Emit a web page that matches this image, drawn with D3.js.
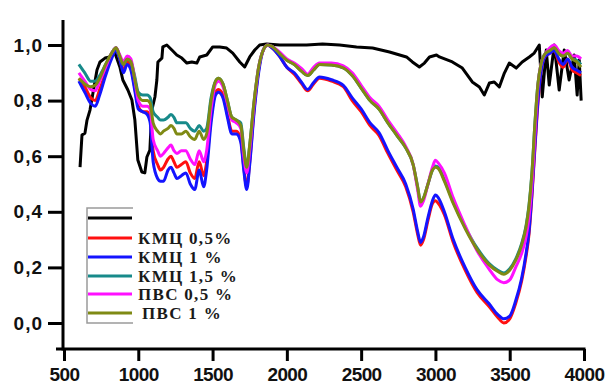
<!DOCTYPE html>
<html>
<head>
<meta charset="utf-8">
<script src="https://cdn.jsdelivr.net/npm/d3@7"></script>
<style>
  html, body { margin: 0; padding: 0; background: #fff; }
  svg { display: block; }
</style>
</head>
<body>
<svg id="chart" width="608" height="386"></svg>
<script>
// ---------- DATA ----------
const seriesNames = ["", "КМЦ 0,5%", "КМЦ 1 %", "КМЦ 1,5 %", "ПВС 0,5 %", "ПВС 1 %"];
const seriesColors = ["#000000", "#ff1010", "#1414ff", "#178a8a", "#ff10ff", "#7f8a14"];

const xTicks = [500, 1000, 1500, 2000, 2500, 3000, 3500, 4000];
const xMinorTicks = [750, 1250, 1750, 2250, 2750, 3250, 3750];
const yTicks = [0, 0.2, 0.4, 0.6, 0.8, 1.0];
const yMinorTicks = [0.1, 0.3, 0.5, 0.7, 0.9];

// reference (black) curve
const blackWn = [608,621,641,655,675,695,722,742,776,809,843,876,896,930,957,977,997,1024,1044,1058,
  1078,1091,1112,1125,1132,1159,1165,1192,1226,1259,1293,1327,1360,1394,1414,1461,1501,1548,1595,1636,
  1683,1716,1750,1784,1817,1864,1952,2133,2240,2355,2469,2577,2691,2805,2845,2892,2926,2960,3007,3027,
  3114,3181,3248,3296,3329,3363,3396,3430,3464,3497,3544,3584,3632,3665,3699,3719,3746,3766,3800,3833,
  3867,3900,3934,3954,3968,3981];
const blackVals = [.561,.676,.683,.730,.766,.827,.910,.939,.953,.957,.971,.921,.874,.838,.802,.730,.586,.543,.540,.597,
  .622,.766,.813,.874,.939,.953,.993,1.0,.982,.964,.953,.935,.939,.935,.957,.964,.993,.993,.989,.971,
  .939,.921,.957,.982,1.0,1.004,1.0,1.0,1.004,1.0,.993,.989,.975,.957,.939,.921,.935,.957,.964,.957,
  .939,.917,.867,.849,.820,.863,.867,.849,.899,.935,.917,.939,.957,.971,1.0,.813,.982,.856,1.0,.838,
  .982,.874,.964,.82,.946,.80];

// common wavenumber grid for the coloured curves
const wavenumbers = [600,640,680,710,740,780,820,850,875,900,
  925,950,975,1000,1030,1060,1080,1100,1130,1150,
  1170,1200,1220,1240,1260,1290,1320,1350,1380,1410,
  1440,1460,1490,1520,1540,1570,1600,1630,1660,1690,
  1710,1730,1750,1780,1810,1840,1870,1900,1950,2000,
  2050,2100,2140,2180,2220,2300,2380,2440,2500,2560,
  2620,2680,2740,2800,2850,2880,2900,2920,2950,2980,
  3000,3020,3060,3120,3200,3280,3360,3420,3460,3500,
  3540,3580,3610,3630,3650,3670,3690,3710,3740,3770,
  3800,3830,3860,3890,3920,3950,3980];

const kmc05 = [.88,.85,.81,.80,.84,.90,.96,.985,.95,.91,
  .94,.92,.85,.78,.76,.76,.74,.62,.57,.55,
  .56,.59,.60,.58,.56,.57,.58,.54,.52,.58,
  .53,.58,.74,.83,.84,.82,.75,.69,.69,.66,
  .56,.49,.58,.77,.91,.98,1.0,.99,.96,.92,
  .895,.86,.835,.86,.88,.87,.85,.80,.76,.71,
  .675,.61,.55,.49,.40,.32,.28,.30,.37,.43,
  .44,.43,.39,.29,.19,.11,.06,.02,.0,.015,
  .07,.15,.24,.32,.46,.63,.79,.90,.96,.97,
  .98,.94,.92,.95,.91,.90,.89];

const kmc1 = [.87,.83,.79,.78,.82,.89,.95,.98,.95,.90,
  .93,.91,.84,.77,.76,.75,.72,.58,.52,.51,
  .51,.55,.56,.54,.52,.53,.54,.50,.48,.55,
  .49,.55,.72,.82,.83,.81,.74,.68,.68,.65,
  .55,.48,.57,.76,.90,.98,1.0,.99,.96,.92,
  .90,.865,.84,.865,.885,.875,.855,.81,.77,.72,
  .685,.62,.56,.50,.41,.33,.29,.31,.38,.44,
  .46,.45,.40,.30,.20,.12,.07,.03,.015,.025,
  .08,.16,.25,.33,.47,.64,.80,.90,.96,.97,
  .98,.95,.93,.95,.92,.91,.90];

const kmc15 = [.93,.90,.87,.87,.89,.93,.97,.99,.96,.93,
  .95,.94,.89,.83,.82,.82,.81,.76,.74,.73,
  .73,.74,.75,.74,.72,.72,.72,.70,.69,.71,
  .69,.70,.81,.87,.88,.86,.80,.74,.73,.72,
  .63,.56,.64,.80,.92,.98,1.0,.995,.97,.945,
  .93,.905,.89,.91,.93,.928,.918,.89,.845,.80,
  .77,.72,.675,.63,.57,.49,.435,.45,.50,.55,
  .565,.56,.515,.435,.345,.27,.215,.19,.18,.195,
  .23,.285,.35,.425,.545,.72,.86,.93,.97,.98,
  .99,.97,.96,.97,.95,.945,.93];

const pvs05 = [.90,.87,.84,.835,.87,.92,.97,.99,.965,.94,
  .96,.95,.88,.80,.78,.78,.77,.66,.62,.60,
  .61,.63,.64,.62,.61,.62,.62,.59,.57,.62,
  .58,.62,.77,.86,.87,.85,.79,.73,.72,.70,
  .60,.54,.62,.79,.92,.98,1.0,.995,.975,.95,
  .935,.915,.895,.92,.935,.935,.925,.90,.855,.81,
  .78,.73,.685,.635,.57,.48,.42,.44,.50,.56,
  .585,.575,.54,.45,.35,.26,.195,.155,.145,.155,
  .20,.25,.31,.38,.50,.68,.85,.93,.97,.99,
  1.0,.98,.97,.98,.96,.96,.95];

const pvs1 = [.88,.86,.85,.855,.88,.93,.97,.99,.96,.93,
  .95,.94,.88,.82,.80,.80,.79,.72,.69,.68,
  .69,.70,.71,.70,.68,.68,.69,.67,.66,.69,
  .66,.68,.80,.87,.88,.86,.80,.74,.73,.71,
  .62,.56,.64,.80,.92,.98,1.0,.995,.97,.945,
  .93,.905,.89,.91,.93,.928,.918,.89,.845,.80,
  .77,.72,.675,.63,.57,.49,.435,.45,.50,.55,
  .56,.555,.51,.43,.34,.265,.21,.185,.175,.19,
  .225,.28,.345,.42,.54,.72,.86,.93,.97,.98,
  .99,.97,.96,.97,.95,.94,.92];

// ---------- CHART ----------
const svg = d3.select("#chart");
const x = d3.scaleLinear().domain([500, 4000]).range([64, 584]);
const y = d3.scaleLinear().domain([0, 1]).range([323, 45]);

const series = [
  blackWn.map((w, i) => [w, blackVals[i]]),
  wavenumbers.map((w, i) => [w, kmc05[i]]),
  wavenumbers.map((w, i) => [w, kmc1[i]]),
  wavenumbers.map((w, i) => [w, kmc15[i]]),
  wavenumbers.map((w, i) => [w, pvs05[i]]),
  wavenumbers.map((w, i) => [w, pvs1[i]])
];

const line = d3.line().x(d => x(d[0])).y(d => y(d[1])).curve(d3.curveMonotoneX);
const lineBlack = d3.line().x(d => x(d[0])).y(d => y(d[1])).curve(d3.curveLinear);

series.forEach((s, i) => {
  svg.append("path")
    .datum(s)
    .attr("fill", "none")
    .attr("stroke", seriesColors[i])
    .attr("stroke-width", 3)
    .attr("stroke-linejoin", "round")
    .attr("d", i === 0 ? lineBlack : line);
});

// axes
const axisFont = "'Liberation Sans', Arial, sans-serif";
const yBottomPx = 349, yTopPx = 20;

const xAxisG = svg.append("g").attr("transform", `translate(0,${yBottomPx})`);
xAxisG.call(d3.axisBottom(x).tickValues(xMinorTicks).tickSize(7).tickFormat(""));
xAxisG.call(d3.axisBottom(x).tickValues(xTicks).tickSize(12).tickSizeOuter(0).tickPadding(7)
  .tickFormat(d3.format("d")));
xAxisG.selectAll(".domain").remove();
xAxisG.append("path").attr("d", `M56,0H${x(4000) + 1.5}`).attr("stroke", "#000").attr("stroke-width", 3);
xAxisG.selectAll("line").attr("stroke", "#000").attr("stroke-width", 3);
xAxisG.selectAll("text").attr("font-family", axisFont).attr("font-weight", "bold")
  .attr("font-size", "19px").attr("fill", "#111").attr("letter-spacing", "-0.6px");

const yAxisG = svg.append("g").attr("transform", "translate(63,0)");
yAxisG.call(d3.axisLeft(y).tickValues(yMinorTicks).tickSize(7).tickFormat(""));
yAxisG.call(d3.axisLeft(y).tickValues(yTicks).tickSize(15).tickSizeOuter(0).tickPadding(5)
  .tickFormat(d => d3.format(".1f")(d).replace(".", ",")));
yAxisG.selectAll(".domain").remove();
yAxisG.append("path").attr("d", `M0,${yBottomPx + 1.5}V${yTopPx}`).attr("stroke", "#000").attr("stroke-width", 3);
yAxisG.selectAll("line").attr("stroke", "#000").attr("stroke-width", 3);
yAxisG.selectAll("text").attr("font-family", axisFont).attr("font-weight", "bold")
  .attr("font-size", "19px").attr("fill", "#111").attr("letter-spacing", "1px");

// legend
const lg = svg.append("g");
lg.append("path").attr("d", "M133,208H87V323H133").attr("fill", "none")
  .attr("stroke", "#9a9a9a").attr("stroke-width", 1.5);
const legendY = [218, 238, 257, 276, 294, 313];
seriesNames.forEach((name, i) => {
  lg.append("line").attr("x1", 88).attr("x2", 132).attr("y1", legendY[i]).attr("y2", legendY[i])
    .attr("stroke", seriesColors[i]).attr("stroke-width", 3);
  if (name) {
    lg.append("text").attr("x", i === 5 ? 142 : 138).attr("y", legendY[i] + 6)
      .attr("font-family", "'Liberation Serif', 'Times New Roman', serif")
      .attr("font-weight", "bold").attr("font-size", "17px").attr("fill", "#1a1a1a")
      .attr("letter-spacing", "1.3px")
      .text(name);
  }
});
</script>
</body>
</html>
